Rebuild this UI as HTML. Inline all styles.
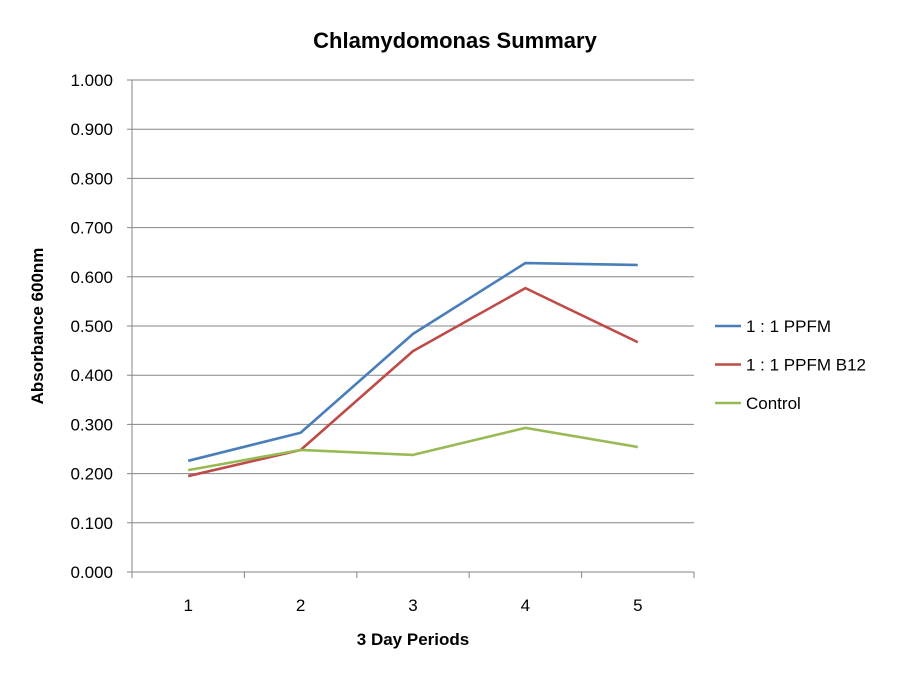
<!DOCTYPE html>
<html><head><meta charset="utf-8"><style>
html,body{margin:0;padding:0;background:#fff;}
svg{display:block;font-family:"Liberation Sans",sans-serif;}
</style></head><body>
<svg id="chart" width="915" height="697" xmlns="http://www.w3.org/2000/svg">
<text x="455" y="48" text-anchor="middle" font-size="22" font-weight="bold">Chlamydomonas Summary</text>
<text transform="translate(43,326) rotate(-90)" text-anchor="middle" font-size="17" font-weight="bold">Absorbance 600nm</text>
<text x="413" y="645" text-anchor="middle" font-size="17" font-weight="bold">3 Day Periods</text>
<g id="grid"></g><g id="axes"></g><g id="series"></g><g id="legend"></g>
</svg>
<script>
const categories = ["1","2","3","4","5"];
const seriesNames = ["1 : 1 PPFM","1 : 1 PPFM B12","Control"];
const ppfm = [0.226,0.283,0.484,0.628,0.624];
const ppfmB12 = [0.195,0.248,0.449,0.577,0.467];
const control = [0.207,0.248,0.238,0.293,0.254];
const yTicks = [0,0.1,0.2,0.3,0.4,0.5,0.6,0.7,0.8,0.9,1.0];
const colors = ["#4a7ebb","#be4b48","#98b954"];

const NS="http://www.w3.org/2000/svg";
const X0=132,X1=694,Y0=572,Y1=80;
const yScale=v=>Y0-(v-0)/(1.0-0)*(Y0-Y1);
const bandW=(X1-X0)/categories.length;
const xScale=i=>X0+bandW*(i+0.5);
function mk(tag,attrs,parent){const e=document.createElementNS(NS,tag);for(const k in attrs)e.setAttribute(k,attrs[k]);parent.appendChild(e);return e;}
const grid=document.getElementById('grid'),axes=document.getElementById('axes'),ser=document.getElementById('series'),leg=document.getElementById('legend');
yTicks.forEach(t=>{
  const y=yScale(t);
  if(t>0){const g=mk('line',{x1:X0,x2:X1,y1:y,y2:y,stroke:'#868686','stroke-width':1},grid);
  
  }
  const tk=mk('line',{x1:X0-5,x2:X0,y1:y,y2:y,stroke:'#868686'},axes);
  
  
  const lb=mk('text',{x:113,y:y+6,'text-anchor':'end','font-size':17},axes);
  lb.textContent=t.toFixed(3);
  
  
});
const ya=mk('line',{x1:X0,x2:X0,y1:Y1,y2:Y0,stroke:'#868686'},axes);


const xa=mk('line',{x1:X0,x2:X1,y1:Y0,y2:Y0,stroke:'#868686'},axes);


for(let i=0;i<=categories.length;i++){
  const x=X0+bandW*i;
  const tk=mk('line',{x1:x,x2:x,y1:Y0,y2:Y0+6,stroke:'#868686'},axes);
  
  
}
categories.forEach((c,i)=>{
  const lb=mk('text',{x:xScale(i),y:611,'text-anchor':'middle','font-size':17},axes);
  lb.textContent=c;
  
  
});
[ppfm,ppfmB12,control].forEach((vals,s)=>{
  const pts=vals.map((v,i)=>xScale(i)+','+yScale(v)).join(' ');
  const pl=mk('polyline',{points:pts,fill:'none',stroke:colors[s],'stroke-width':2.6,'stroke-linejoin':'round'},ser);
  
  
  const ly=326+s*38.5;
  const ll=mk('line',{x1:715,x2:741,y1:ly,y2:ly,stroke:colors[s],'stroke-width':2.6},leg);
  
  
  const lt=mk('text',{x:746,y:ly+6,'font-size':17},leg);
  lt.textContent=seriesNames[s];
  
  
});
</script>
</body></html>
